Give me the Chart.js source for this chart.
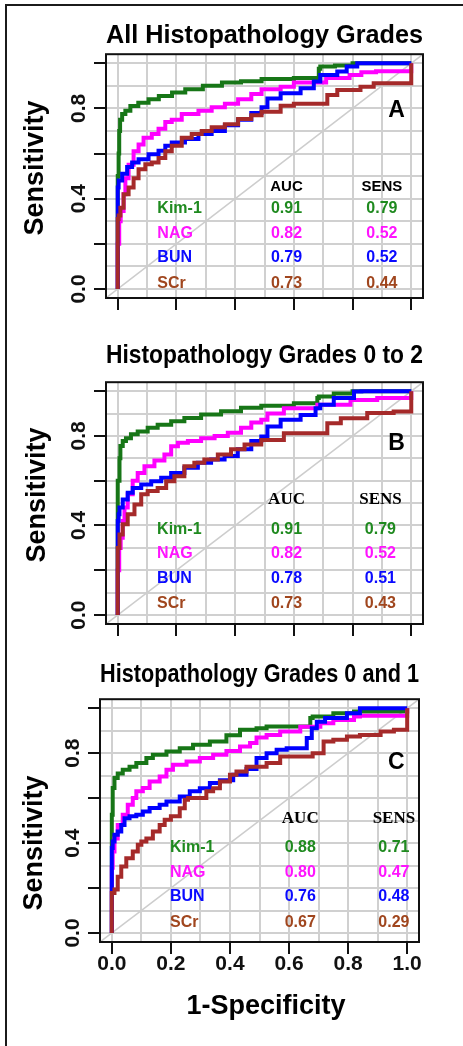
<!DOCTYPE html>
<html>
<head>
<meta charset="utf-8">
<title>ROC curves: Kim-1, NAG, BUN, SCr</title>
<script src="https://cdn.jsdelivr.net/npm/chart.js@4.4.1/dist/chart.umd.min.js"></script>
<style>
  html, body { margin: 0; padding: 0; background: #fff; overflow: hidden; }
  .frame {
    position: absolute; left: 5px; top: 4px; width: 470px; height: 1050px;
    border-left: 2px solid #1b1b1b; border-top: 2px solid #1b1b1b;
  }
  canvas { position: absolute; left: 0; }
</style>
</head>
<body>
<div class="frame"></div>
<canvas id="panelA" width="463" height="330" style="top:0px"></canvas>
<canvas id="panelB" width="463" height="320" style="top:330px"></canvas>
<canvas id="panelC" width="463" height="396" style="top:650px"></canvas>
<script>
const FONT = "'Liberation Sans', Arial, Helvetica, sans-serif";
const SERIF = "'Liberation Serif', 'Times New Roman', serif";
Chart.defaults.font.family = FONT;

// axes run 4% past the unit square, grid every 0.1, ticks every 0.2
const AXIS_MIN = -0.04;
const AXIS_MAX = 1.04;
const gridValues = [0, 0.1, 0.2, 0.3, 0.4, 0.5, 0.6, 0.7, 0.8, 0.9, 1.0];
const tickValues = [0, 0.2, 0.4, 0.6, 0.8, 1.0];
const yLabelValues = [0, 0.4, 0.8];
const xLabelValues = [0, 0.2, 0.4, 0.6, 0.8, 1.0];

const markers = ['Kim-1', 'NAG', 'BUN', 'SCr'];
const lineColors = ['#177617', '#ff00ff', '#0000ff', '#a52a2a'];
const textColors = ['#1f8a1f', '#ff14ff', '#0a0aff', '#a0461e'];

// ROC points as [1-specificity, sensitivity]
// A: all histopathology grades
const kim1A = [[0, 0], [0, 0.42], [0.003, 0.5], [0.005, 0.6], [0.008, 0.7], [0.015, 0.75], [0.026, 0.775],
  [0.043, 0.79], [0.07, 0.81], [0.105, 0.825], [0.14, 0.84], [0.185, 0.855], [0.23, 0.87], [0.29, 0.885],
  [0.355, 0.9], [0.42, 0.915], [0.49, 0.92], [0.6, 0.93], [0.685, 0.935], [0.69, 0.975], [0.74, 0.985],
  [0.8, 0.99], [0.84, 1], [1, 1]];
const nagA = [[0, 0], [0.005, 0.2], [0.01, 0.3], [0.02, 0.345], [0.026, 0.42], [0.037, 0.49], [0.054, 0.55],
  [0.071, 0.61], [0.088, 0.64], [0.116, 0.67], [0.139, 0.686], [0.162, 0.71], [0.184, 0.74], [0.218, 0.75],
  [0.275, 0.775], [0.32, 0.79], [0.365, 0.805], [0.41, 0.82], [0.455, 0.84], [0.49, 0.864], [0.555, 0.885],
  [0.6, 0.896], [0.71, 0.915], [0.79, 0.935], [0.83, 0.948], [0.88, 0.96], [1, 0.965], [1, 1]];
const bunA = [[0, 0], [0, 0.2], [0.003, 0.45], [0.015, 0.48], [0.032, 0.51], [0.049, 0.54], [0.071, 0.56],
  [0.105, 0.575], [0.139, 0.597], [0.162, 0.612], [0.184, 0.634], [0.229, 0.649], [0.275, 0.664], [0.32, 0.686],
  [0.365, 0.7], [0.41, 0.725], [0.455, 0.75], [0.49, 0.78], [0.51, 0.805], [0.555, 0.844], [0.623, 0.867],
  [0.668, 0.889], [0.69, 0.919], [0.748, 0.948], [0.78, 0.963], [0.816, 0.985], [0.85, 1], [1, 1]];
const scrA = [[0, 0], [0.003, 0.31], [0.009, 0.325], [0.02, 0.36], [0.037, 0.42], [0.054, 0.45], [0.071, 0.49],
  [0.094, 0.53], [0.116, 0.553], [0.139, 0.56], [0.162, 0.58], [0.184, 0.61], [0.218, 0.634], [0.252, 0.67],
  [0.286, 0.686], [0.32, 0.7], [0.365, 0.716], [0.41, 0.73], [0.455, 0.753], [0.49, 0.77], [0.555, 0.785],
  [0.6, 0.812], [0.714, 0.82], [0.748, 0.859], [0.827, 0.881], [0.872, 0.896], [0.975, 0.911], [1, 0.911], [1, 1]];
const aucA = [0.91, 0.82, 0.79, 0.73];
const sensA = [0.79, 0.52, 0.52, 0.44];

// B: grades 0 to 2
const kim1B = [[0, 0], [0, 0.48], [0.006, 0.6], [0.009, 0.7], [0.017, 0.755], [0.028, 0.777], [0.045, 0.79],
  [0.068, 0.807], [0.102, 0.82], [0.136, 0.836], [0.182, 0.85], [0.227, 0.866], [0.284, 0.88], [0.352, 0.896],
  [0.42, 0.91], [0.489, 0.926], [0.6, 0.935], [0.68, 0.946], [0.685, 0.969], [0.736, 0.976], [0.8, 0.99],
  [0.83, 1], [1, 1]];
const nagB = [[0, 0], [0.005, 0.2], [0.01, 0.3], [0.017, 0.345], [0.023, 0.42], [0.034, 0.48], [0.051, 0.54],
  [0.068, 0.6], [0.091, 0.635], [0.125, 0.665], [0.159, 0.69], [0.182, 0.717], [0.205, 0.754], [0.239, 0.77],
  [0.284, 0.777], [0.33, 0.79], [0.375, 0.8], [0.42, 0.814], [0.455, 0.836], [0.489, 0.86], [0.51, 0.872],
  [0.566, 0.9], [0.68, 0.924], [0.793, 0.939], [0.884, 0.96], [1, 0.969], [1, 1]];
const bunB = [[0, 0], [0, 0.2], [0.003, 0.42], [0.006, 0.45], [0.017, 0.48], [0.034, 0.516], [0.051, 0.546],
  [0.08, 0.568], [0.114, 0.583], [0.148, 0.598], [0.182, 0.613], [0.227, 0.635], [0.273, 0.658], [0.318, 0.68],
  [0.364, 0.695], [0.409, 0.71], [0.455, 0.74], [0.489, 0.777], [0.51, 0.797], [0.555, 0.842], [0.623, 0.872],
  [0.674, 0.894], [0.69, 0.924], [0.736, 0.939], [0.805, 0.969], [0.83, 0.998], [0.85, 1], [1, 1]];
const scrB = [[0, 0], [0.003, 0.3], [0.006, 0.3], [0.017, 0.36], [0.034, 0.405], [0.057, 0.45], [0.08, 0.494],
  [0.102, 0.54], [0.136, 0.554], [0.165, 0.568], [0.193, 0.598], [0.227, 0.62], [0.261, 0.665], [0.295, 0.68],
  [0.341, 0.695], [0.386, 0.717], [0.432, 0.74], [0.489, 0.762], [0.566, 0.782], [0.6, 0.812], [0.714, 0.812],
  [0.76, 0.857], [0.85, 0.879], [0.94, 0.902], [1, 0.909], [1, 1]];
const aucB = [0.91, 0.82, 0.78, 0.73];
const sensB = [0.79, 0.52, 0.51, 0.43];

// C: grades 0 and 1
const kim1C = [[0, 0], [0, 0.39], [0.003, 0.526], [0.009, 0.645], [0.02, 0.69], [0.037, 0.71], [0.06, 0.726],
  [0.083, 0.74], [0.117, 0.756], [0.139, 0.778], [0.185, 0.793], [0.23, 0.807], [0.275, 0.822], [0.332, 0.837],
  [0.388, 0.852], [0.434, 0.88], [0.49, 0.904], [0.524, 0.911], [0.672, 0.919], [0.68, 0.956], [0.75, 0.963],
  [0.82, 0.978], [0.853, 0.985], [1, 0.985], [1, 1]];
const nagC = [[0, 0], [0, 0.15], [0.003, 0.29], [0.009, 0.363], [0.02, 0.42], [0.037, 0.48], [0.054, 0.526],
  [0.071, 0.57], [0.083, 0.6], [0.105, 0.63], [0.128, 0.645], [0.162, 0.674], [0.185, 0.696], [0.207, 0.726],
  [0.253, 0.748], [0.298, 0.763], [0.343, 0.778], [0.388, 0.793], [0.434, 0.81], [0.468, 0.83], [0.49, 0.845],
  [0.524, 0.87], [0.57, 0.881], [0.638, 0.896], [0.706, 0.918], [0.75, 0.933], [0.82, 0.948], [0.84, 0.963],
  [1, 0.966], [1, 1]];
const bunC = [[0, 0], [0, 0.1], [0.003, 0.378], [0.009, 0.407], [0.02, 0.437], [0.032, 0.452], [0.043, 0.48],
  [0.06, 0.511], [0.083, 0.519], [0.105, 0.526], [0.128, 0.54], [0.162, 0.556], [0.185, 0.57], [0.23, 0.585],
  [0.264, 0.607], [0.298, 0.63], [0.332, 0.644], [0.366, 0.667], [0.411, 0.68], [0.456, 0.704], [0.49, 0.73],
  [0.524, 0.778], [0.558, 0.8], [0.592, 0.815], [0.66, 0.822], [0.677, 0.867], [0.694, 0.911], [0.722, 0.94],
  [0.796, 0.956], [0.84, 0.978], [0.864, 1], [1, 1]];
const scrC = [[0, 0], [0, 0.074], [0.009, 0.178], [0.02, 0.193], [0.032, 0.25], [0.049, 0.296], [0.071, 0.333],
  [0.088, 0.363], [0.1, 0.393], [0.117, 0.407], [0.139, 0.42], [0.162, 0.452], [0.179, 0.48], [0.2, 0.504],
  [0.23, 0.519], [0.247, 0.555], [0.258, 0.593], [0.287, 0.6], [0.32, 0.6], [0.343, 0.63], [0.366, 0.644],
  [0.4, 0.674], [0.422, 0.704], [0.456, 0.718], [0.524, 0.74], [0.57, 0.756], [0.6, 0.785], [0.68, 0.785],
  [0.717, 0.8], [0.75, 0.852], [0.796, 0.86], [0.84, 0.874], [0.91, 0.881], [0.955, 0.896], [0.994, 0.904],
  [1, 0.904], [1, 1]];
const aucC = [0.88, 0.80, 0.76, 0.67];
const sensC = [0.71, 0.47, 0.48, 0.29];

// per-panel layout: plot box edges are fixed through axis sizes and paddings
const panels = [
  {
    canvas: 'panelA', title: 'All Histopathology Grades', letter: 'A',
    curves: [kim1A, nagA, bunA, scrA], auc: aucA, sens: sensA,
    yAxisWidth: 106, rightPad: 40, titlePad: { top: 20, bottom: 3 }, xAxisHeight: 32, showX: false,
    serifHead: false, nameX: 0.135, aucX: 0.575, sensX: 0.9, headY: 0.453,
    rowY: [0.356, 0.244, 0.138, 0.022], letterAt: [0.95, 0.79], yTitleAt: [36, 168]
  },
  {
    canvas: 'panelB', title: 'Histopathology Grades 0 to 2', letter: 'B',
    curves: [kim1B, nagB, bunB, scrB], auc: aucB, sens: sensB,
    yAxisWidth: 106, rightPad: 40, titlePad: { top: 10, bottom: 11 }, xAxisHeight: 26, showX: false,
    serifHead: true, nameX: 0.134, aucX: 0.575, sensX: 0.895, headY: 0.514,
    rowY: [0.383, 0.273, 0.164, 0.049], letterAt: [0.95, 0.767], yTitleAt: [38, 165]
  },
  {
    canvas: 'panelC', title: 'Histopathology Grades 0 and 1', letter: 'C',
    curves: [kim1C, nagC, bunC, scrC], auc: aucC, sens: sensC,
    yAxisWidth: 100, rightPad: 44, titlePad: { top: 9, bottom: 9 }, xAxisHeight: 104, showX: true,
    serifHead: true, nameX: 0.197, aucX: 0.638, sensX: 0.955, headY: 0.511,
    rowY: [0.378, 0.267, 0.16, 0.047], letterAt: [0.963, 0.756], yTitleAt: [35, 193],
    xTitleAt: [266, 357]
  }
];

const isIn = (list, v) => list.some(t => Math.abs(t - v) < 1e-6);

// AUC / SENS table, panel letter, plot box and axis titles
function notesPlugin(p) {
  return {
    id: 'notes',
    afterDatasetsDraw(chart) {
      const { ctx, chartArea: a } = chart;
      const xs = chart.scales.x;
      const ys = chart.scales.y;
      ctx.save();
      ctx.textBaseline = 'middle';
      ctx.textAlign = 'center';
      ctx.fillStyle = '#000';
      ctx.font = p.serifHead ? `bold 17px ${SERIF}` : `bold 15px ${FONT}`;
      const hy = ys.getPixelForValue(p.headY);
      ctx.fillText('AUC', xs.getPixelForValue(p.aucX), hy);
      ctx.fillText('SENS', xs.getPixelForValue(p.sensX), hy);

      ctx.font = `bold 16px ${FONT}`;
      markers.forEach((name, i) => {
        const ry = ys.getPixelForValue(p.rowY[i]);
        ctx.fillStyle = textColors[i];
        ctx.textAlign = 'left';
        ctx.fillText(name, xs.getPixelForValue(p.nameX), ry);
        ctx.textAlign = 'center';
        ctx.fillText(p.auc[i].toFixed(2), xs.getPixelForValue(p.aucX), ry);
        ctx.fillText(p.sens[i].toFixed(2), xs.getPixelForValue(p.sensX), ry);
      });

      ctx.fillStyle = '#000';
      ctx.font = `bold 23px ${FONT}`;
      ctx.fillText(p.letter, xs.getPixelForValue(p.letterAt[0]), ys.getPixelForValue(p.letterAt[1]));

      ctx.lineWidth = 2;
      ctx.strokeStyle = '#111';
      ctx.strokeRect(a.left, a.top, a.right - a.left, a.bottom - a.top);

      ctx.font = `bold 27px ${FONT}`;
      if (p.xTitleAt) ctx.fillText('1-Specificity', p.xTitleAt[0], p.xTitleAt[1]);
      ctx.translate(p.yTitleAt[0], p.yTitleAt[1]);
      ctx.rotate(-Math.PI / 2);
      ctx.fillText('Sensitivity', 0, 0);
      ctx.restore();
    }
  };
}

function axisOptions(p, axis) {
  const vertical = axis === 'y';
  return {
    type: 'linear',
    min: AXIS_MIN,
    max: AXIS_MAX,
    afterBuildTicks: s => { s.ticks = gridValues.map(v => ({ value: v })); },
    afterFit: s => {
      if (vertical) s.width = p.yAxisWidth;
      else s.height = p.xAxisHeight;
    },
    border: { display: false },
    grid: {
      color: '#d0d0d0',
      lineWidth: 2,
      tickLength: 12,
      tickWidth: 2,
      tickColor: c => (c.tick && isIn(tickValues, c.tick.value)) ? '#111' : 'rgba(0,0,0,0)'
    },
    ticks: {
      display: vertical || p.showX,
      autoSkip: false,
      color: '#111',
      font: { size: 21, weight: 'bold' },
      padding: vertical ? 0 : -2,
      minRotation: vertical ? 90 : 0,
      maxRotation: vertical ? 90 : 0,
      crossAlign: vertical ? 'center' : 'near',
      callback: v => isIn(vertical ? yLabelValues : xLabelValues, v) ? v.toFixed(1) : ''
    }
  };
}

panels.forEach(p => {
  const datasets = p.curves.map((pts, i) => ({
    label: markers[i],
    data: pts.map(([x, y]) => ({ x, y })),
    borderColor: lineColors[i],
    borderWidth: 4,
    borderJoinStyle: 'miter',
    stepped: 'after',
    showLine: true,
    pointRadius: 0,
    fill: false,
    order: 3 - i
  }));
  // chance diagonal across the whole box
  datasets.push({
    label: 'chance',
    data: [{ x: AXIS_MIN, y: AXIS_MIN }, { x: AXIS_MAX, y: AXIS_MAX }],
    borderColor: '#cdcdcd',
    borderWidth: 1.5,
    showLine: true,
    pointRadius: 0,
    order: 10
  });

  new Chart(document.getElementById(p.canvas), {
    type: 'scatter',
    data: { datasets },
    plugins: [notesPlugin(p)],
    options: {
      responsive: false,
      animation: false,
      events: [],
      layout: { padding: { left: 0, right: p.rightPad, top: 0, bottom: 0 } },
      plugins: {
        legend: { display: false },
        tooltip: { enabled: false },
        title: {
          display: true,
          text: p.title,
          fullSize: false,
          color: '#000',
          font: { size: 26, weight: 'bold' },
          padding: p.titlePad
        }
      },
      scales: { x: axisOptions(p, 'x'), y: axisOptions(p, 'y') }
    }
  });
});
</script>
</body>
</html>
